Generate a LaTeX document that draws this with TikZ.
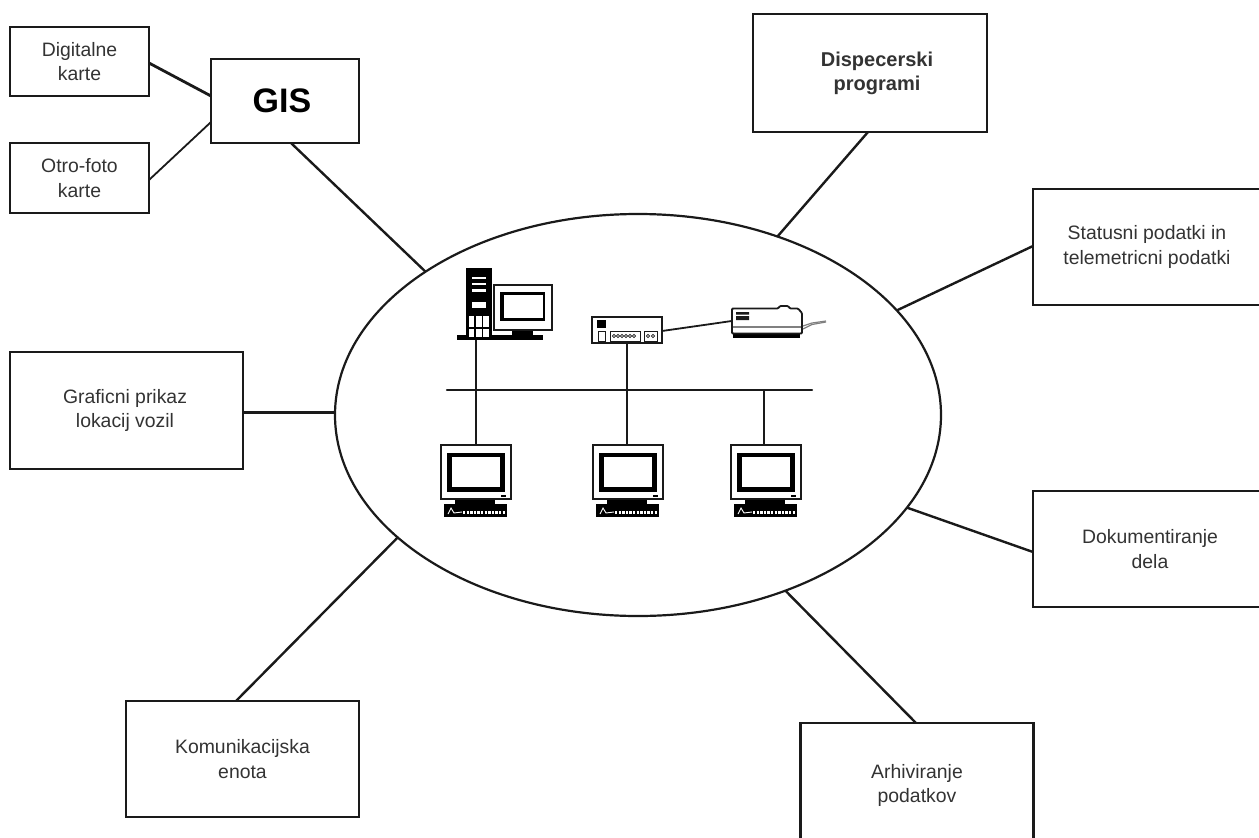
\documentclass[tikz,border=0pt]{standalone}
\usepackage{fontspec}
\setmainfont{Liberation Sans}
\usetikzlibrary{shapes.geometric}
\definecolor{txt}{HTML}{333333}
\definecolor{ink}{HTML}{1A1A1A}
\tikzset{
  box/.style={draw=ink,line width=2.4pt,fill=white,rectangle,inner sep=0pt,outer sep=0pt,align=center,text=txt,font=\fontsize{19.4}{24.5}\selectfont},
  link/.style={draw=ink,line width=2.4pt},
  wire/.style={draw=ink,line width=1.8pt},
  solid part/.style={draw=none,fill=black,rectangle,inner sep=0pt,outer sep=0pt},
  part/.style={draw=ink,line width=1.4pt,fill=white,rectangle,inner sep=0pt,outer sep=0pt},
  thin part/.style={draw=ink,line width=.8pt,fill=white,rectangle,inner sep=0pt,outer sep=0pt},
  pics/terminal/.style={code={
    \node[solid part,minimum width=40pt,minimum height=6pt] (-base) at (-1,56.5) {};
    \node[solid part,minimum width=63pt,minimum height=13pt] (-kbd) at (-0.5,65.5) {};
    \draw[white,line width=3pt,dash pattern=on 2.4pt off 1.2pt] (-13,67) -- (29,67);
    \draw[white,line width=.9pt] (-28,69) -- (-25,63) -- (-22,68) -- (-14,67);
    \node[part,line width=2.2pt,minimum width=70pt,minimum height=54pt] (-case) at (0,27) {};
    \node[solid part,minimum width=58pt,minimum height=39pt] (-frame) at (0,27.5) {};
    \node[fill=white,inner sep=0pt,minimum width=48pt,minimum height=30pt] (-screen) at (0,27) {};
    \node[solid part,minimum width=5pt,minimum height=1.5pt] at (27,51) {};
  }}
}
\begin{document}
\begin{tikzpicture}[x=1pt,y=-1pt]
\useasboundingbox (0,0) rectangle (1259,838);
\fill[white] (0,0) rectangle (1259,838);

% central ellipse
\node[ellipse,draw=ink,line width=2.2pt,fill=white,minimum width=606pt,minimum height=402pt,inner sep=0pt,outer sep=0pt] (hub) at (638,415) {};

% boxes
\node[box,minimum width=139pt,minimum height=69pt] (dig) at (79.5,61.5) {Digitalne\\karte};
\node[box,minimum width=139pt,minimum height=70pt] (otro) at (79.5,178) {Otro-foto\\karte};
\node[box,line width=2.8pt,minimum width=148pt,minimum height=84pt,font=\fontsize{34}{36}\selectfont\bfseries,text=black] (gis) at (285,101) {\hspace*{-6pt}GIS};
\node[box,minimum width=234pt,minimum height=118pt,font=\fontsize{20}{24}\selectfont\bfseries] (disp) at (870,73) {\hspace*{14pt}Dispecerski\\\hspace*{14pt}programi};
\node[box,minimum width=234pt,minimum height=116pt,font=\fontsize{19.4}{25.5}\selectfont] (stat) at (1150,247) {\hspace*{-6pt}Statusni podatki in\\\hspace*{-6pt}telemetricni podatki};
\node[box,minimum width=233pt,minimum height=117pt] (graf) at (126.5,410.5) {\hspace*{-3pt}Graficni prikaz\\\hspace*{-3pt}lokacij vozil};
\node[box,minimum width=234pt,minimum height=116pt,font=\fontsize{19.4}{25.5}\selectfont] (dok) at (1150,549) {Dokumentiranje\\dela};
\node[box,minimum width=233pt,minimum height=116pt] (kom) at (242.5,759) {Komunikacijska\\enota};
\node[box,minimum width=233pt,minimum height=125pt] (arh) at (917,785.5) {Arhiviranje\\podatkov};

% connectors
\draw[link,line width=2.8pt] ([yshift=-1.5pt]dig.east) -- ([yshift=5pt]gis.west);
\draw[link,line width=1.8pt] ([yshift=-2pt]otro.east) -- ([yshift=-21pt]gis.west);
\draw[link] ([xshift=6pt]gis.south) -- (hub.146.8);
\draw[link] ([xshift=-2pt]disp.south) -- (hub.52.3);
\draw[link] ([yshift=1pt]stat.west) -- (hub.22.7);
\draw[link] ([yshift=-2pt]graf.east) -- ([yshift=2.5pt]hub.west);
\draw[link] ([yshift=-3pt]dok.west) -- (hub.-19);
\draw[link] ([xshift=-1pt]arh.north) -- (hub.-50);
\draw[link] ([xshift=-6.5pt]kom.north) -- (hub.207);

% bus
\coordinate (busl) at (447,390);
\coordinate (busr) at (812,390);
\draw[link,line cap=round] (busl) -- (busr);

% terminals
\pic (t1) at (476,445) {terminal};
\pic (t2) at (628,445) {terminal};
\pic (t3) at (766,445) {terminal};

% server tower and monitor
\node[solid part,minimum width=86pt,minimum height=5pt] (desk) at (500,337.5) {};
\node[solid part,minimum width=21pt,minimum height=5pt] at (522.5,332.5) {};
\node[part,line width=2pt,minimum width=58pt,minimum height=45pt] (mon) at (523,307.5) {};
\node[solid part,minimum width=45pt,minimum height=29pt] at (522.5,306.5) {};
\node[fill=white,inner sep=0pt,minimum width=39pt,minimum height=23pt] at (523,306.5) {};
\node[solid part,minimum width=26pt,minimum height=69pt] (tower) at (479,302.5) {};
\foreach \yy/\hh in {278/2,284/2,290/3,305/6}
  \node[fill=white,inner sep=0pt,minimum width=14pt,minimum height=\hh pt] at (478.5,\yy) {};
\foreach \xx in {471.5,479,486} \foreach \yy/\hh in {321/11,332.5/8}
  \node[fill=white,inner sep=0pt,minimum width=5.5pt,minimum height=\hh pt] at (\xx,\yy) {};

% switch
\node[thin part,line width=1.1pt,minimum width=70pt,minimum height=26pt] (sw) at (627,330) {};
\node[solid part,minimum width=9pt,minimum height=8pt] at (601.5,324) {};
\node[thin part,minimum width=7pt,minimum height=10pt] at (602,336) {};
\node[thin part,minimum width=30pt,minimum height=10pt] at (625,336) {};
\node[thin part,minimum width=13pt,minimum height=10pt] at (650.5,336) {};
\foreach \xx in {614,618,622,626,630,634}
  \node[circle,draw=ink,line width=.7pt,inner sep=0pt,minimum size=3.4pt] at (\xx,336) {};
\foreach \xx in {648,653}
  \node[circle,draw=ink,line width=.7pt,inner sep=0pt,minimum size=3.4pt] at (\xx,336) {};

% printer
\node[solid part,minimum width=67pt,minimum height=5pt] (prbase) at (766.5,335.5) {};
\draw[draw=ink,line width=1.8pt,fill=white,rounded corners=1pt] (732,308.5) -- (778,308.5) -- (780,306) -- (788,306) -- (790,308.5) -- (798,308.5) -- (802,313) -- (802,333.5) -- (732,333.5) -- cycle;
\node[inner sep=0pt,minimum width=70pt,minimum height=14pt] (printer) at (767,322) {};
\fill[ink] (736,312) rectangle (749,314.5) (736,316) rectangle (749,320);
\draw[gray,line width=1.6pt] (733,327) -- (801,327);
\draw[gray,line width=1.2pt] (803,329) -- (812,324.5) -- (826,322);
\draw[gray,line width=1.2pt] (803,326) -- (812,323) -- (826,321);

% wires
\draw[wire] (desk.south -| t1-case.north) -- (t1-case.north);
\draw[wire] (sw.south) -- ([xshift=-1pt]t2-case.north);
\draw[wire] ([xshift=-2pt]t3-case.north) -- ++(0,-55);
\draw[wire] ([yshift=-1pt]sw.east) -- ([yshift=1pt]printer.west);
\end{tikzpicture}
\end{document}
